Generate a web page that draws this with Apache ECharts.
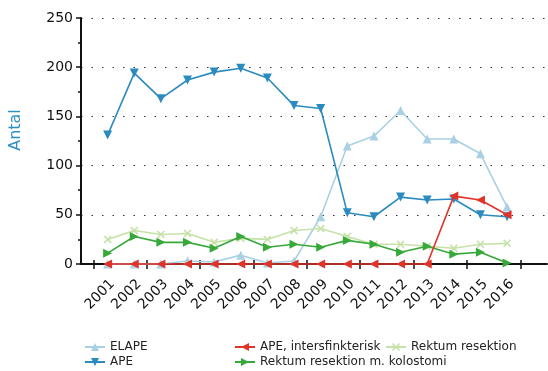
<!DOCTYPE html>
<html>
<head>
<meta charset="utf-8">
<script src="https://cdn.jsdelivr.net/npm/echarts@6/dist/echarts.min.js"></script>
<style>
  html, body { margin: 0; padding: 0; background: #fff; }
  #chart { width: 548px; height: 371px; }
</style>
</head>
<body>
<div id="chart"></div>
<script>
const years = [2001, 2002, 2003, 2004, 2005, 2006, 2007, 2008, 2009, 2010, 2011, 2012, 2013, 2014, 2015, 2016];

const elape = [0, 0, 0, 3, 2, 9, 1, 3, 48, 120, 130, 156, 127, 127, 112, 58];
const ape = [131, 194, 168, 187, 195, 199, 189, 161, 158, 52, 48, 68, 65, 66, 50, 48];
const apeInters = [0, 0, 0, 0, 0, 0, 0, 0, 0, 0, 0, 0, 0, 69, 65, 50];
const rektumKol = [11, 28, 22, 22, 16, 28, 17, 20, 17, 24, 20, 12, 18, 10, 12, 1];
const rektum = [25, 34, 30, 31, 22, 26, 25, 34, 36, 28, 20, 20, 18, 16, 20, 21];

const xShape = 'path://M0,1.4L1.4,0L5,3.6L8.6,0L10,1.4L6.4,5L10,8.6L8.6,10L5,6.4L1.4,10L0,8.6L3.6,5Z';

// x range of the plot: 2000 .. 2017.5, plot from 80px to 547px
const xMin = 2000, xMax = 2017.5, plotLeft = 80, plotRight = 1;
const perYear = (548 - plotLeft - plotRight) / (xMax - xMin);

function pairs(vals) {
  return vals.map((v, i) => [years[i], v]);
}

function line(name, vals, color, symbol, rotate, z) {
  return {
    name: name,
    type: 'line',
    data: pairs(vals),
    symbol: symbol,
    symbolSize: symbol === xShape ? 8 : 9,
    symbolRotate: rotate,
    clip: false,
    z: z,
    itemStyle: { color: color },
    lineStyle: { color: color, width: 1.6 }
  };
}

const chart = echarts.init(document.getElementById('chart'));
const legendText = { fontFamily: 'DejaVu Sans', fontSize: 12, color: '#222' };
const tickStyle = { color: '#111', width: 1.5 };
const tickGridLeft = plotLeft + (years[0] - 0.5 - xMin) * perYear;
const tickGridRight = 548 - (plotLeft + (years[years.length - 1] + 0.5 - xMin) * perYear);

chart.setOption({
  animation: false,
  textStyle: { fontFamily: 'DejaVu Sans' },
  grid: [
    { left: plotLeft, right: plotRight, top: 18, bottom: 107 },
    { left: tickGridLeft, right: tickGridRight, top: 18, bottom: 107 }
  ],
  legend: [
    { data: ['ELAPE', 'APE'], orient: 'vertical', left: 84, top: 341, itemWidth: 20, itemHeight: 10, itemGap: 3, textStyle: legendText, padding: 0 },
    { data: ['APE, intersfinkterisk', 'Rektum resektion m. kolostomi'], orient: 'vertical', left: 234, top: 341, itemWidth: 20, itemHeight: 10, itemGap: 3, textStyle: legendText, padding: 0 },
    { data: ['Rektum resektion'], orient: 'vertical', left: 385, top: 341, itemWidth: 20, itemHeight: 10, itemGap: 3, textStyle: legendText, padding: 0 }
  ],
  xAxis: [
    {
      type: 'value',
      gridIndex: 0,
      min: xMin,
      max: xMax,
      splitLine: { show: false },
      axisLine: { lineStyle: { color: '#111', width: 2 } },
      axisTick: { show: false },
      axisLabel: {
        customValues: years, formatter: v => String(v), rotate: 45,
        verticalAlign: 'top', fontSize: 14, color: '#111', margin: 13
      }
    },
    {
      type: 'category', gridIndex: 1, data: years, boundaryGap: true,
      axisLine: { show: false }, axisLabel: { show: false },
      axisTick: { show: true, inside: false, length: 5, lineStyle: tickStyle }
    },
    {
      type: 'category', gridIndex: 1, data: years, boundaryGap: true, position: 'bottom',
      axisLine: { show: false }, axisLabel: { show: false },
      axisTick: { show: true, inside: true, length: 4, lineStyle: tickStyle }
    }
  ],
  yAxis: [
    {
      type: 'value',
      gridIndex: 0,
      min: 0,
      max: 250,
      interval: 50,
      name: 'Antal',
      nameLocation: 'middle',
      nameGap: 57,
      nameTextStyle: { color: '#2f8fc4', fontSize: 16, padding: [0, 0, 0, 22] },
      axisLine: { show: true, lineStyle: { color: '#111', width: 2 } },
      axisTick: { show: true, length: 5, lineStyle: tickStyle },
      minorTick: { show: true, splitNumber: 2, length: 3, lineStyle: tickStyle },
      axisLabel: { fontSize: 14, color: '#111', margin: 8 },
      splitLine: { show: true, lineStyle: { color: '#333', width: 1.2, type: [1.5, 9] } }
    },
    { type: 'value', gridIndex: 1, show: false, min: 0, max: 250 }
  ],
  series: [
    line('ELAPE', elape, '#a9d0e3', 'triangle', 0, 2),
    line('APE', ape, '#2b8bbf', 'triangle', 180, 3),
    line('APE, intersfinkterisk', apeInters, '#e0342b', 'triangle', 90, 6),
    line('Rektum resektion m. kolostomi', rektumKol, '#37a83a', 'triangle', -90, 5),
    line('Rektum resektion', rektum, '#c6e2a8', xShape, 0, 4)
  ]
});
</script>
</body>
</html>
